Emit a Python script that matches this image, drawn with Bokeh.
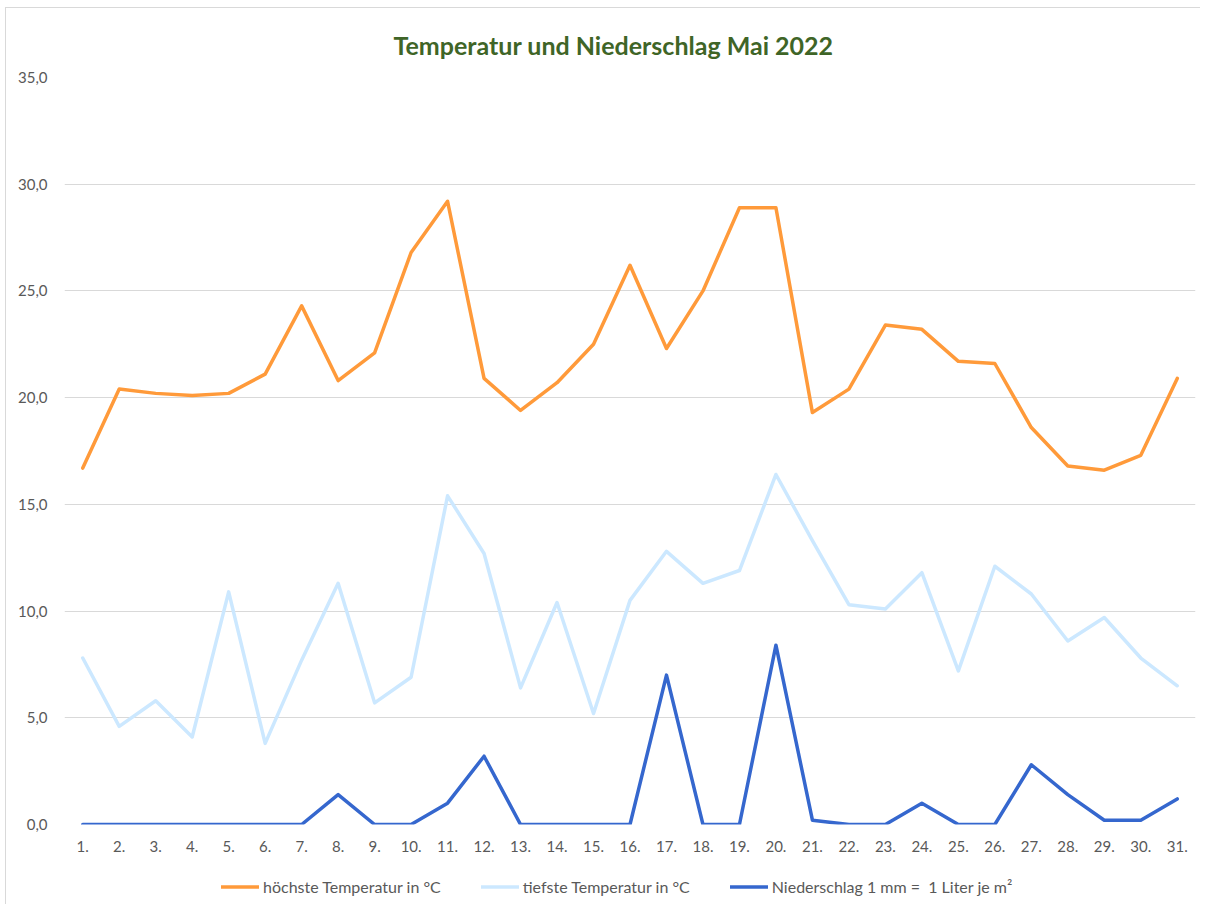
from bokeh.plotting import figure
from bokeh.layouts import column
from bokeh.models import FactorRange, Range1d, FixedTicker, CustomJSTickFormatter, Legend, LegendItem
from bokeh.embed import file_html
from bokeh.resources import INLINE

days = [f"{i}." for i in range(1, 32)]
max_temp = [16.7, 20.4, 20.2, 20.1, 20.2, 21.1, 24.3, 20.8, 22.1, 26.8,
            29.2, 20.9, 19.4, 20.7, 22.5, 26.2, 22.3, 25.0, 28.9, 28.9,
            19.3, 20.4, 23.4, 23.2, 21.7, 21.6, 18.6, 16.8, 16.6, 17.3, 20.9]
min_temp = [7.8, 4.6, 5.8, 4.1, 10.9, 3.8, 7.7, 11.3, 5.7, 6.9,
            15.4, 12.7, 6.4, 10.4, 5.2, 10.5, 12.8, 11.3, 11.9, 16.4,
            13.3, 10.3, 10.1, 11.8, 7.2, 12.1, 10.8, 8.6, 9.7, 7.8, 6.5]
rain = [0, 0, 0, 0, 0, 0, 0, 1.4, 0, 0,
        1.0, 3.2, 0, 0, 0, 0, 7.0, 0, 0, 8.4,
        0.2, 0, 0, 1.0, 0, 0, 2.8, 1.4, 0.2, 0.2, 1.2]
y_ticks = [0, 5, 10, 15, 20, 25, 30, 35]
series_names = ["höchste Temperatur in °C", "tiefste Temperatur in °C",
                "Niederschlag 1 mm =  1 Liter je m²"]
colors = ["#FF9A3A", "#CCE8FF", "#3567CE"]

FONT = "Lato"
GRID = "#D9D9D9"

p = figure(x_range=FactorRange(*days), y_range=Range1d(0, 35),
           frame_width=1131, frame_height=747,
           min_border_left=64, min_border_right=5, min_border_top=77, min_border_bottom=28,
           output_backend="svg", toolbar_location=None,
           title="Temperatur und Niederschlag Mai 2022")

p.title.align = "left"
p.title.text_font = FONT
p.title.text_font_size = "25px"
p.title.text_font_style = "bold"
p.title.text_color = "#3F6527"
p.title.offset = 329
p.title.standoff = 35

p.outline_line_color = None
p.background_fill_color = "white"
p.border_fill_color = None
p.styles = {"background": f"linear-gradient({GRID},{GRID}) 5px 7px / 1px 100% no-repeat, "
                          f"linear-gradient({GRID},{GRID}) 5px 7px / 100% 1px no-repeat, #ffffff"}

p.xgrid.grid_line_color = None
p.ygrid.grid_line_color = GRID
p.ygrid.grid_line_width = 1
p.yaxis.ticker = FixedTicker(ticks=y_ticks)
p.yaxis.formatter = CustomJSTickFormatter(code="return tick.toFixed(1).replace('.', ',');")

for ax in (p.xaxis, p.yaxis):
    ax.axis_line_color = None
    ax.major_tick_line_color = None
    ax.minor_tick_line_color = None
    ax.major_label_text_font = FONT
    ax.major_label_text_font_size = "15px"
    ax.major_label_text_color = "#595959"
p.yaxis.major_label_standoff = 11
p.xaxis.major_label_standoff = 10

for vals, col in zip([max_temp, min_temp, rain], colors):
    p.line(days, vals, line_color=col, line_width=3.5, line_join="round", line_cap="round")

# legend strip below the chart
q = figure(width=1200, height=50, x_range=Range1d(0, 1), y_range=Range1d(0, 1),
           min_border=0, x_axis_location=None, y_axis_location=None,
           output_backend="svg", toolbar_location=None)
q.outline_line_color = None
q.background_fill_color = None
q.border_fill_color = None
q.xgrid.grid_line_color = None
q.ygrid.grid_line_color = None
q.styles = {"background": f"linear-gradient({GRID},{GRID}) 5px 0 / 1px 100% no-repeat, #ffffff"}

nan = float("nan")
legend_renderers = [q.line([nan], [nan], line_color=col, line_width=3.5, line_cap="round")
                    for col in colors]
legend = Legend(items=[LegendItem(label=n, renderers=[r]) for n, r in zip(series_names, legend_renderers)],
                orientation="horizontal", location=(157, 8))
legend.glyph_width = 38
legend.glyph_height = 17
legend.label_height = 17
legend.label_standoff = 4
legend.spacing = 40
legend.label_text_font = FONT
legend.label_text_font_size = "16px"
legend.label_text_color = "#595959"
legend.border_line_color = None
legend.background_fill_alpha = 0
legend.margin = 0
legend.padding = 0
q.add_layout(legend, "center")

layout = column(p, q, spacing=0)
open("out.html", "w").write(file_html(layout, INLINE))
